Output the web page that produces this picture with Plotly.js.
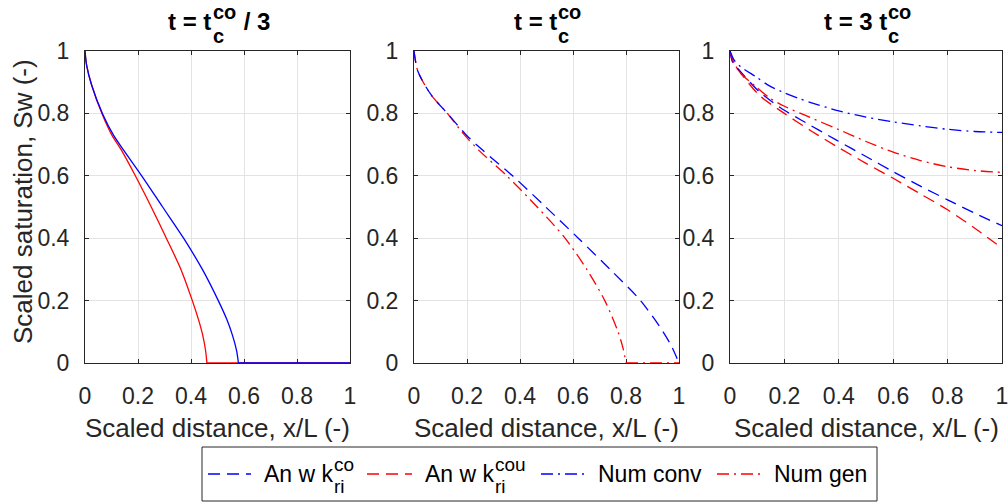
<!DOCTYPE html>
<html>
<head>
<meta charset="utf-8">
<script src="https://cdn.plot.ly/plotly-3.0.1.min.js"></script>
<style>html,body{margin:0;padding:0;background:#fff;}#chart{width:1008px;height:504px;}</style>
</head>
<body>
<div id="chart"></div>
<script>
// ---------------- DATA ----------------
// Panel 1: t = tc/3 (solid curves)
const p1CoX  = [0, 0.006, 0.025, 0.067, 0.107, 0.145, 0.214, 0.293, 0.372, 0.443, 0.503, 0.535, 0.556, 0.572, 0.579, 1];
const p1CoY  = [1, 0.955, 0.891, 0.797, 0.731, 0.683, 0.6, 0.5, 0.4, 0.3, 0.2, 0.14, 0.09, 0.04, 0, 0];
const p1CouX = [0, 0.006, 0.025, 0.065, 0.101, 0.137, 0.19, 0.25, 0.307, 0.362, 0.405, 0.428, 0.444, 0.455, 0.46, 1];
const p1CouY = [1, 0.955, 0.891, 0.797, 0.731, 0.683, 0.6, 0.5, 0.4, 0.3, 0.2, 0.14, 0.09, 0.04, 0, 0];
// Panel 2: t = tc
const p2CoX  = [0, 0.015, 0.065, 0.126, 0.197, 0.262, 0.372, 0.497, 0.62, 0.74, 0.855, 0.94, 0.974, 1];
const p2CoY  = [1, 0.934, 0.859, 0.8, 0.731, 0.68, 0.6, 0.5, 0.4, 0.3, 0.2, 0.1, 0.05, 0];
const p2GenX = [0, 0.015, 0.065, 0.126, 0.19, 0.247, 0.35, 0.465, 0.57, 0.652, 0.72, 0.77, 0.788, 0.8, 1];
const p2GenY = [1, 0.934, 0.859, 0.8, 0.731, 0.68, 0.6, 0.5, 0.4, 0.3, 0.2, 0.1, 0.05, 0, 0];
// Panel 3: t = 3 tc
const p3CoX   = [0, 0.01, 0.034, 0.108, 0.2, 0.261, 0.39, 0.5, 0.6, 0.7, 0.8, 0.9, 1];
const p3CoY   = [1, 0.965, 0.939, 0.869, 0.81, 0.779, 0.715, 0.662, 0.613, 0.567, 0.523, 0.48, 0.44];
const p3CouX  = [0, 0.01, 0.034, 0.108, 0.2, 0.3, 0.4, 0.5, 0.6, 0.7, 0.8, 0.9, 1];
const p3CouY  = [1, 0.963, 0.935, 0.858, 0.8, 0.743, 0.69, 0.64, 0.592, 0.542, 0.491, 0.432, 0.368];
const p3ConvX = [0, 0.016, 0.04, 0.096, 0.145, 0.2, 0.25, 0.3, 0.4, 0.5, 0.6, 0.7, 0.8, 0.9, 1];
const p3ConvY = [1, 0.97, 0.949, 0.917, 0.888, 0.866, 0.849, 0.834, 0.808, 0.788, 0.773, 0.76, 0.749, 0.742, 0.739];
const p3GenX  = [0, 0.016, 0.04, 0.096, 0.145, 0.2, 0.273, 0.4, 0.5, 0.6, 0.7, 0.8, 0.9, 1];
const p3GenY  = [1, 0.96, 0.928, 0.885, 0.85, 0.823, 0.795, 0.748, 0.71, 0.676, 0.649, 0.629, 0.617, 0.611];

const tickVals = [0, 0.2, 0.4, 0.6, 0.8, 1];
const tickText = ['0', '0.2', '0.4', '0.6', '0.8', '1'];
const legendNames = ['An w k', 'An w k', 'Num conv', 'Num gen'];
const legendSup = ['co', 'cou', '', ''];
const legendSub = ['ri', 'ri', '', ''];
const xTitle = 'Scaled distance, x/L (-)';
const yTitle = 'Scaled saturation, Sw (-)';

// ---------------- STYLE ----------------
const W = 1008, H = 504;
const BLUE = '#0000ff', RED = '#ff0000', AX = '#262626', GRID = '#e3e3e3';
const FONT = 'Liberation Sans';
const LW = 1.3;
const DASH = '12px,7px';
const DASHDOT = '12px,5px,2px,5px';
const px = v => v / W, py = v => 1 - v / H;

const panelsX = [[85, 350], [414, 679], [730, 1002]];
const plotTop = 51, plotBot = 363;

const cv = document.createElement('canvas').getContext('2d');
function tw(t, size, bold) { cv.font = (bold ? 'bold ' : '') + size + 'px "' + FONT + '"'; return cv.measureText(t).width; }
function ann(text, x, baseY, size, bold, color, xanchor) {
  return {text: text, x: px(x), y: py(baseY - 0.3465 * size), xref: 'paper', yref: 'paper',
    xanchor: xanchor || 'left', yanchor: 'middle', showarrow: false, borderpad: 0,
    font: {family: FONT, size: size, color: color || '#000', weight: bold ? 'bold' : 'normal'}};
}

// A series: the curved part is drawn smooth (spline), the part lying on Sw = 0 straight.
function series(x, y, color, dash, ax) {
  const xa = 'x' + (ax === 1 ? '' : ax), ya = 'y' + (ax === 1 ? '' : ax);
  let k = y.indexOf(0);
  if (k < 0) k = y.length - 1;
  const base = {type: 'scatter', mode: 'lines', showlegend: false, hoverinfo: 'skip', xaxis: xa, yaxis: ya};
  const out = [Object.assign({}, base, {x: x.slice(0, k + 1), y: y.slice(0, k + 1),
    line: {color: color, width: LW, dash: dash, shape: 'spline', smoothing: 0.8}})];
  if (k < y.length - 1) out.push(Object.assign({}, base, {x: x.slice(k), y: y.slice(k),
    line: {color: color, width: LW, dash: dash}}));
  return out;
}

const traces = [].concat(
  series(p1CouX, p1CouY, RED, 'solid', 1),
  series(p1CoX, p1CoY, BLUE, 'solid', 1),
  series(p2GenX, p2GenY, RED, DASHDOT, 2),
  series(p2CoX, p2CoY, BLUE, DASH, 2),
  series(p3CouX, p3CouY, RED, DASH, 3),
  series(p3CoX, p3CoY, BLUE, DASH, 3),
  series(p3GenX, p3GenY, RED, DASHDOT, 3),
  series(p3ConvX, p3ConvY, BLUE, DASHDOT, 3)
);

function axis(dom, isX, anchor) {
  return {domain: dom, range: [0, 1], tickvals: tickVals, ticktext: tickText, ticks: 'inside', ticklen: 4,
    tickcolor: AX, tickwidth: 1, showline: true, linecolor: AX, linewidth: 1, mirror: 'ticks',
    showgrid: true, gridcolor: GRID, gridwidth: 1, zeroline: false, fixedrange: true, anchor: anchor,
    layer: 'below traces', ticklabelstandoff: isX ? 12 : 10, ticklabeloverflow: 'allow',
    tickfont: {family: FONT, size: 23, color: AX}};
}

const yDom = [py(plotBot), py(plotTop)];
const layout = {
  width: W, height: H, margin: {l: 0, r: 0, t: 0, b: 0}, paper_bgcolor: '#fff', plot_bgcolor: '#fff',
  showlegend: false,
  xaxis:  axis([px(panelsX[0][0]), px(panelsX[0][1])], true, 'y'),
  yaxis:  axis(yDom, false, 'x'),
  xaxis2: axis([px(panelsX[1][0]), px(panelsX[1][1])], true, 'y2'),
  yaxis2: axis(yDom, false, 'x2'),
  xaxis3: axis([px(panelsX[2][0]), px(panelsX[2][1])], true, 'y3'),
  yaxis3: axis(yDom, false, 'x3'),
  annotations: [], shapes: []
};

// Titles with stacked super/subscripts
function stackedTitle(main, sup, sub, suffix, cx) {
  const fs = 24, ss = 20;
  const wMain = tw(main, fs, true), wStack = Math.max(tw(sup, ss, true), tw(sub, ss, true)), wSuf = suffix ? tw(suffix, fs, true) : 0;
  const x0 = cx - (wMain + wStack + wSuf) / 2;
  const out = [ann(main, x0, 30, fs, true, '#000'),
               ann(sup, x0 + wMain + 1, 19, ss, true, '#000'),
               ann(sub, x0 + wMain + 1, 43, ss, true, '#000')];
  if (suffix) out.push(ann(suffix, x0 + wMain + wStack + 2, 30, fs, true, '#000'));
  return out;
}
const cxs = panelsX.map(p => (p[0] + p[1]) / 2);
layout.annotations.push(...stackedTitle('t = t', 'co', 'c', '\u00a0/ 3', cxs[0]));
layout.annotations.push(...stackedTitle('t = t', 'co', 'c', '', cxs[1]));
layout.annotations.push(...stackedTitle('t = 3 t', 'co', 'c', '', cxs[2]));

// Axis titles
cxs.forEach(cx => layout.annotations.push(ann(xTitle, cx, 437, 26, false, AX, 'center')));
layout.annotations.push({text: yTitle, x: px(23), y: py(202), xref: 'paper', yref: 'paper', textangle: -90,
  xanchor: 'center', yanchor: 'middle', showarrow: false, font: {family: FONT, size: 26, color: AX}});

// Legend (box, line samples, labels with stacked sup/sub)
const legBox = {x0: 202, x1: 877, y0: 447, y1: 501};
layout.shapes.push({type: 'rect', xref: 'paper', yref: 'paper', x0: px(legBox.x0), x1: px(legBox.x1),
  y0: py(legBox.y1), y1: py(legBox.y0), line: {color: AX, width: 1}, fillcolor: '#fff', layer: 'above'});
const legColors = [BLUE, RED, BLUE, RED];
const legDash = [DASH, DASH, DASHDOT, DASHDOT];
const legSample = [[208, 251], [367, 412], [541, 585], [717, 765]];
const legText = [263, 424, 597, 773];
const legMid = 474, lfs = 23, lss = 19;
for (let i = 0; i < 4; i++) {
  layout.shapes.push({type: 'line', xref: 'paper', yref: 'paper', x0: px(legSample[i][0]), x1: px(legSample[i][1]),
    y0: py(legMid), y1: py(legMid), line: {color: legColors[i], width: LW, dash: legDash[i]}, layer: 'above'});
  layout.annotations.push(ann(legendNames[i], legText[i], legMid + 8, lfs, false, '#000'));
  if (legendSup[i]) {
    const xs = legText[i] + tw(legendNames[i], lfs, false) + 1;
    layout.annotations.push(ann(legendSup[i], xs, legMid - 3, lss, false, '#000'));
    layout.annotations.push(ann(legendSub[i], xs, legMid + 19, lss, false, '#000'));
  }
}

Plotly.newPlot('chart', traces, layout, {staticPlot: true, displayModeBar: false});
</script>
</body>
</html>
